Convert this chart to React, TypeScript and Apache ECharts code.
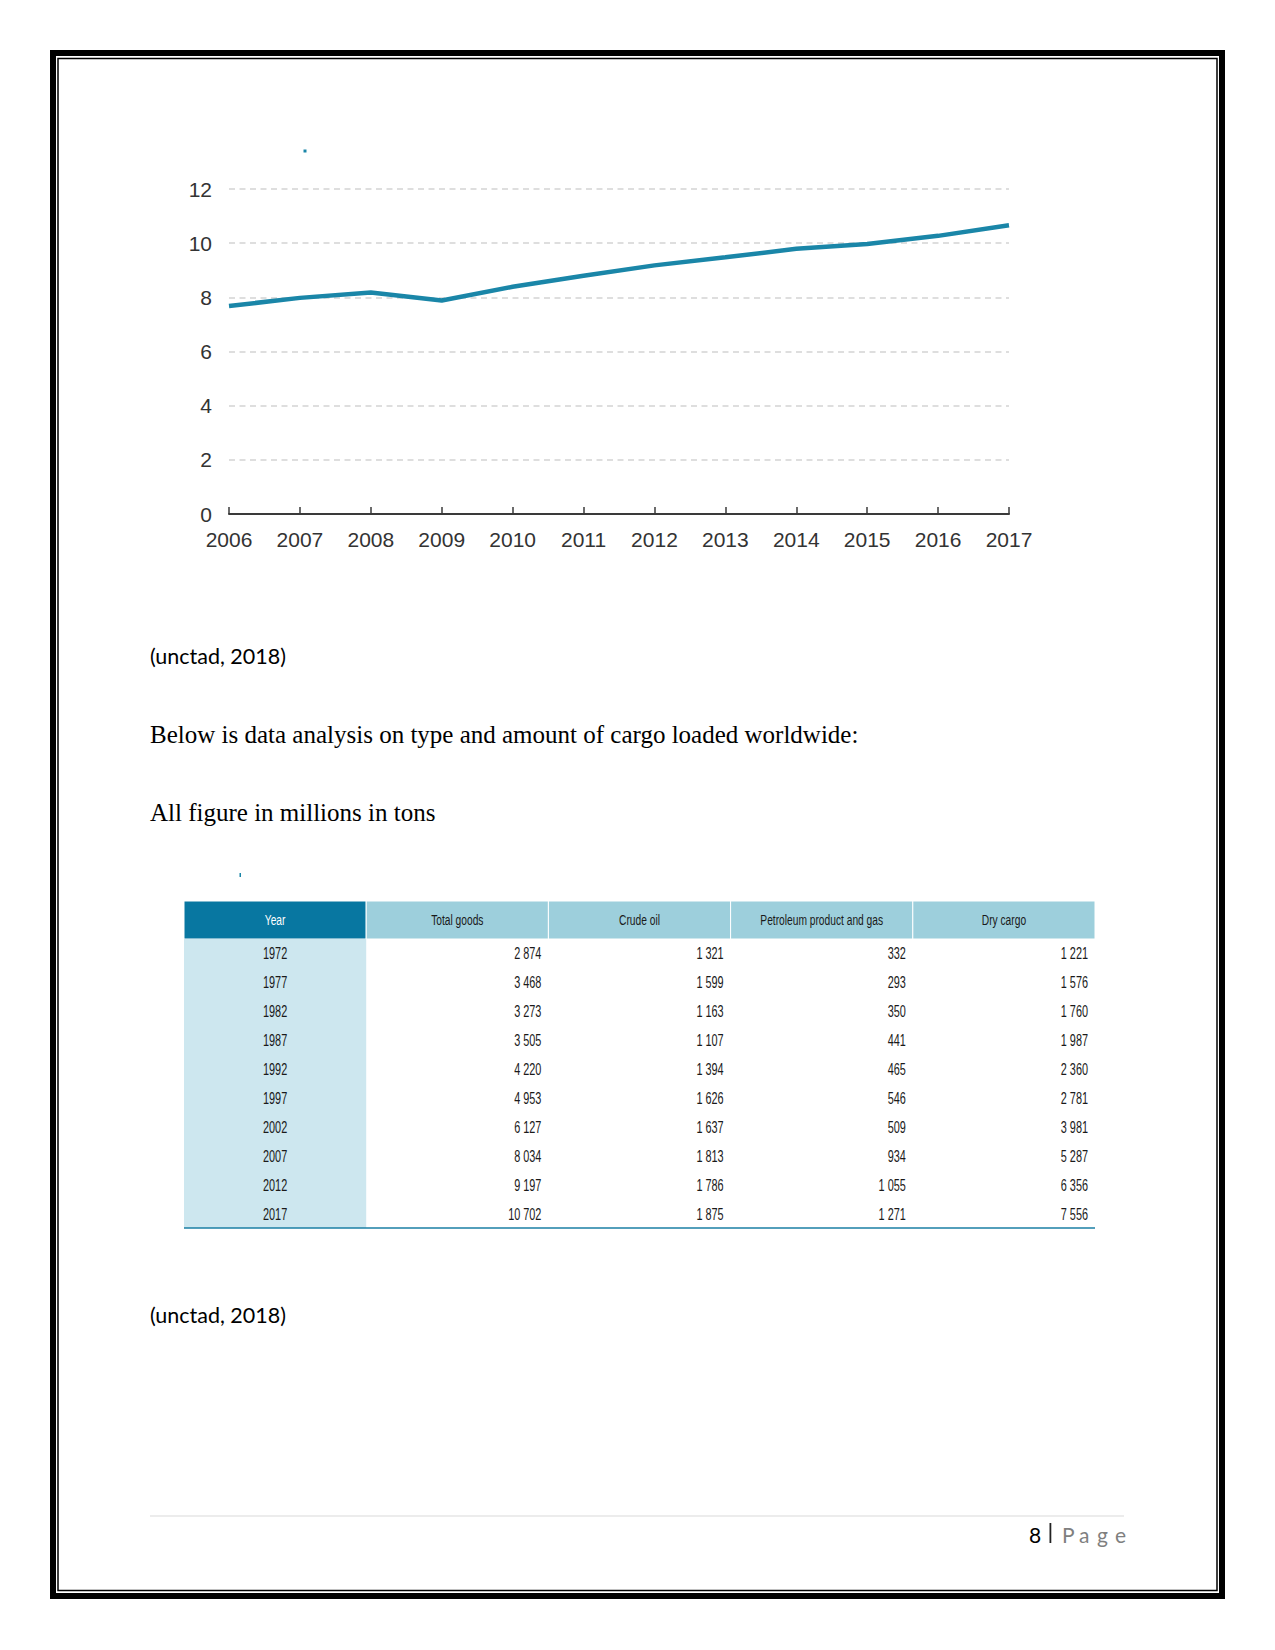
import React, { useEffect, useRef } from "react";
import * as echarts from "echarts";

// ---- Chart data (world seaborne trade, billions of tons) ----
const years = ["2006", "2007", "2008", "2009", "2010", "2011", "2012", "2013", "2014", "2015", "2016", "2017"];
const tradeVolume = [7.68, 7.98, 8.18, 7.88, 8.39, 8.8, 9.18, 9.48, 9.79, 9.97, 10.27, 10.66];

// ---- Table data (millions of tons) ----
const tableHeaders = ["Year", "Total goods", "Crude oil", "Petroleum product and gas", "Dry cargo"];
const tableYears = ["1972", "1977", "1982", "1987", "1992", "1997", "2002", "2007", "2012", "2017"];
const totalGoods = [2874, 3468, 3273, 3505, 4220, 4953, 6127, 8034, 9197, 10702];
const crudeOil = [1321, 1599, 1163, 1107, 1394, 1626, 1637, 1813, 1786, 1875];
const petroleumGas = [332, 293, 350, 441, 465, 546, 509, 934, 1055, 1271];
const dryCargo = [1221, 1576, 1760, 1987, 2360, 2781, 3981, 5287, 6356, 7556];

// ---- Page texts ----
const sourceText = "(unctad, 2018)";
const introText = "Below is data analysis on type and amount of cargo loaded worldwide:";
const unitText = "All figure in millions in tons";
const pageNumber = "8";

const TEAL = "#1a86a8";

function fmt(n: number): string {
  const s = String(n);
  return s.length > 3 ? s.slice(0, s.length - 3) + " " + s.slice(s.length - 3) : s;
}

function txt(x: number, y: number, text: string, font: string, fill: string, align: string, extra: any = {}) {
  return {
    type: "text",
    x,
    y,
    ...extra,
    style: {
      text,
      font,
      fill,
      align,
      textAlign: align,
      verticalAlign: "middle",
      textVerticalAlign: "middle",
    },
  };
}

function buildGraphics() {
  const g: any[] = [];
  // page border
  g.push({ type: "rect", shape: { x: 53, y: 53, width: 1169, height: 1543 }, style: { fill: "none", stroke: "#000", lineWidth: 6 } });
  g.push({ type: "rect", shape: { x: 58, y: 58.5, width: 1159, height: 1532 }, style: { fill: "none", stroke: "#000", lineWidth: 1.5 } });

  // tiny marks in the original
  g.push({ type: "rect", shape: { x: 303.5, y: 149.5, width: 3, height: 3 }, style: { fill: TEAL } });
  g.push({ type: "rect", shape: { x: 239.5, y: 873, width: 1.5, height: 4 }, style: { fill: TEAL } });

  // paragraphs
  const calibri = "21.5px Lato, 'Open Sans', sans-serif";
  const times = "25px 'Liberation Serif', 'Times New Roman', serif";
  g.push(txt(150, 656, sourceText, calibri, "#000", "left"));
  g.push(txt(150, 734, introText, times, "#000", "left"));
  g.push(txt(150, 812, unitText, times, "#000", "left"));
  g.push(txt(150, 1315, sourceText, calibri, "#000", "left"));

  // table
  const tx0 = 184, tx1 = 1095, ty0 = 901, headH = 38, rowH = 28.9;
  const colW = (tx1 - tx0) / tableHeaders.length;
  const nRows = tableYears.length;
  const bodyBottom = ty0 + headH + rowH * nRows;
  const cols = [totalGoods, crudeOil, petroleumGas, dryCargo];
  tableHeaders.forEach((h, i) => {
    const x = tx0 + i * colW;
    g.push({
      type: "rect",
      shape: { x, y: ty0, width: colW, height: headH },
      style: { fill: i === 0 ? "#0877a1" : "#9dcfdc", stroke: "#ffffff", lineWidth: 1 },
    });
    g.push(
      txt(x + colW / 2, ty0 + headH / 2, h, "15.5px 'Liberation Sans', Arial, sans-serif", i === 0 ? "#ffffff" : "#1a1a1a", "center", {
        scaleX: 0.66,
      })
    );
  });
  g.push({ type: "rect", shape: { x: tx0, y: ty0 + headH, width: colW, height: rowH * nRows }, style: { fill: "#cde7ef" } });
  tableYears.forEach((yr, r) => {
    const cy = ty0 + headH + rowH * (r + 0.5);
    g.push(txt(tx0 + colW / 2, cy, yr, "17px 'Liberation Sans', Arial, sans-serif", "#1a1a1a", "center", { scaleX: 0.64 }));
    cols.forEach((arr, c) => {
      const xr = tx0 + colW * (c + 2) - 7;
      g.push(txt(xr, cy, fmt(arr[r]), "17px 'Liberation Sans', Arial, sans-serif", "#1a1a1a", "right", { scaleX: 0.64 }));
    });
  });
  g.push({ type: "line", shape: { x1: tx0, y1: bodyBottom, x2: tx1, y2: bodyBottom }, style: { stroke: "#1a7fa5", lineWidth: 1.5 } });

  // footer
  g.push({ type: "line", shape: { x1: 150, y1: 1516, x2: 1124, y2: 1516 }, style: { stroke: "#d9d9d9", lineWidth: 1 } });
  const footFont = "21px Lato, 'Open Sans', sans-serif";
  g.push(txt(1029, 1534, pageNumber, footFont, "#000", "left"));
  g.push({ type: "rect", shape: { x: 1049.5, y: 1523, width: 1.8, height: 20 }, style: { fill: "#222" } });
  const pageLetters = ["P", "a", "g", "e"];
  const letterX = [1062, 1079, 1097, 1115];
  pageLetters.forEach((l, i) => g.push(txt(letterX[i], 1534, l, footFont, "#7f7f7f", "left")));
  return g;
}

export default function App() {
  const ref = useRef<HTMLDivElement>(null);
  useEffect(() => {
    if (!ref.current) return;
    const chart = echarts.init(ref.current, undefined, { renderer: "svg" });
    chart.setOption({
      animation: false,
      backgroundColor: "#ffffff",
      grid: { left: 229, top: 189, width: 780, height: 325, containLabel: false },
      xAxis: {
        type: "category",
        data: years,
        boundaryGap: false,
        axisLine: { show: true, lineStyle: { color: "#3a3a3a", width: 2 } },
        axisTick: { show: true, inside: true, length: 7, alignWithLabel: true, lineStyle: { color: "#3a3a3a", width: 1.5 } },
        axisLabel: { color: "#333", fontSize: 21, fontFamily: "'Liberation Sans', Arial, sans-serif", margin: 15 },
        splitLine: { show: false },
      },
      yAxis: {
        type: "value",
        min: 0,
        max: 12,
        interval: 2,
        axisLine: { show: false },
        axisTick: { show: false },
        axisLabel: { color: "#333", fontSize: 21, fontFamily: "'Liberation Sans', Arial, sans-serif", margin: 17 },
        splitLine: { show: true, lineStyle: { color: "#d4d4d4", type: [6, 4.5], width: 1.5 } },
      },
      series: [
        {
          type: "line",
          data: tradeVolume,
          showSymbol: false,
          symbol: "none",
          lineStyle: { color: TEAL, width: 4.5 },
          z: 5,
        },
      ],
      graphic: { elements: buildGraphics() },
    });
    return () => chart.dispose();
  }, []);
  return (
    <div
      ref={ref}
      style={{ position: "absolute", left: 0, top: 0, width: 1275, height: 1650, background: "#fff" }}
    />
  );
}
